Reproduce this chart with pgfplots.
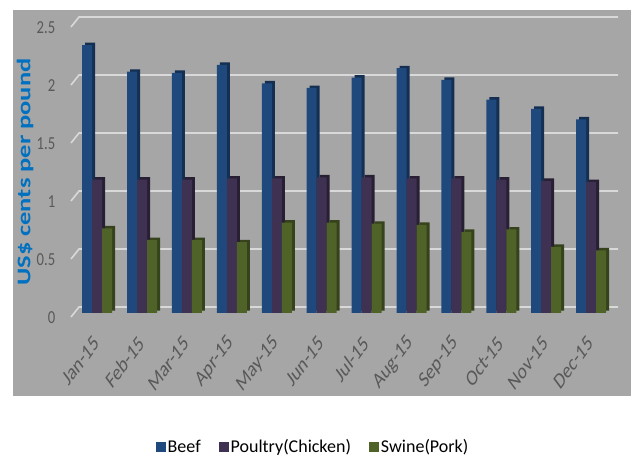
\documentclass[border=0pt]{standalone}
\usepackage{graphicx}
\usepackage{pgfplots}
\pgfplotsset{compat=1.18}
\usepackage{pgfplotstable}
\usepackage{fontspec}
\setmainfont{Carlito}
\definecolor{bg}{HTML}{A6A6A6}
\definecolor{gridc}{HTML}{D9D9D9}
\definecolor{beef}{HTML}{1F497D}
\definecolor{beefd}{HTML}{142F52}
\definecolor{poul}{HTML}{3F3151}
\definecolor{pould}{HTML}{281F34}
\definecolor{pork}{HTML}{4F6228}
\definecolor{porkd}{HTML}{35421B}
\definecolor{txt}{HTML}{595959}
\definecolor{ylab}{HTML}{0070C0}

\pgfplotstableread{
idx beef poultry pork
0 2.31 1.15 0.73
1 2.08 1.15 0.63
2 2.07 1.15 0.63
3 2.14 1.16 0.61
4 1.98 1.16 0.78
5 1.94 1.17 0.78
6 2.03 1.17 0.77
7 2.11 1.16 0.76
8 2.01 1.16 0.70
9 1.84 1.15 0.72
10 1.76 1.14 0.57
11 1.67 1.13 0.54
}\datatable

\pgfplotsset{sqlegend/.style={legend image code/.code={\fill[##1] (0pt,-3.9pt) rectangle (7.5pt,3.9pt);}}}

\begin{document}
\begin{tikzpicture}[x=0.75pt,y=0.75pt]
\path[use as bounding box] (0,0) rectangle (637,461);
\fill[bg] (13,65) rectangle (631,451);
\begin{axis}[
  at={(54pt,111pt)}, anchor=south west,
  width=410.25pt, height=217.5pt, scale only axis,
  xmin=-0.56, xmax=11.62, ymin=0, ymax=2.5,
  clip=false,
  ytick={0,0.5,1,1.5,2,2.5},
  yticklabels={0,0.5,1,1.5,2,2.5},
  xtick={0,...,11},
  xticklabels={Jan-15,Feb-15,Mar-15,Apr-15,May-15,Jun-15,Jul-15,Aug-15,Sep-15,Oct-15,Nov-15,Dec-15},
  axis line style={draw=none}, major tick length=0pt,
  ybar=0pt, bar width=7.5pt,
  tick label style={font=\fontsize{11}{13}\selectfont, text=txt},
  yticklabel style={yscale=1.25, xshift=-9pt, yshift=-3pt},
  xticklabel style={font=\fontsize{12.5}{14}\selectfont, yshift=-19pt, yscale=1.35, rotate=45, anchor=east, inner sep=1pt},
  ylabel={\scalebox{1.37}[1]{US\$ cents per pound}},
  ylabel style={font=\bfseries\fontsize{14.5}{16}\selectfont, text=ylab, at={(axis description cs:-0.0859,0.486)}, anchor=center},
  legend style={at={(axis description cs:0.4406,-0.462)}, anchor=center, draw=none, fill=none,
    legend columns=3, font=\fontsize{13.5}{15}\selectfont, text=black,
    /tikz/every even column/.append style={column sep=12pt},
    nodes={inner sep=1.5pt}},
]
\pgfplotsinvokeforeach{0,0.5,1,1.5,2,2.5}{
  \draw[gridc, line width=1.2pt] (axis cs:-0.56,#1) ++(-0.75pt,-3pt) -- ++(6pt,7.5pt) -- ++(404.25pt,0pt);
}
\addplot[forget plot, fill=beefd, draw=none, bar shift=-5.25pt, yshift=1.8pt] table[x=idx,y=beef]{\datatable};
\addplot[sqlegend, fill=beef, draw=none, bar shift=-7.5pt] table[x=idx,y=beef]{\datatable};
\addplot[forget plot, fill=pould, draw=none, bar shift=2.25pt, yshift=1.8pt] table[x=idx,y=poultry]{\datatable};
\addplot[sqlegend, fill=poul, draw=none, bar shift=0pt] table[x=idx,y=poultry]{\datatable};
\addplot[forget plot, fill=porkd, draw=none, bar shift=9.75pt, yshift=1.8pt] table[x=idx,y=pork]{\datatable};
\addplot[sqlegend, fill=pork, draw=none, bar shift=7.5pt] table[x=idx,y=pork]{\datatable};
\legend{Beef,Poultry(Chicken),Swine(Pork)}
\end{axis}
\end{tikzpicture}
\end{document}
